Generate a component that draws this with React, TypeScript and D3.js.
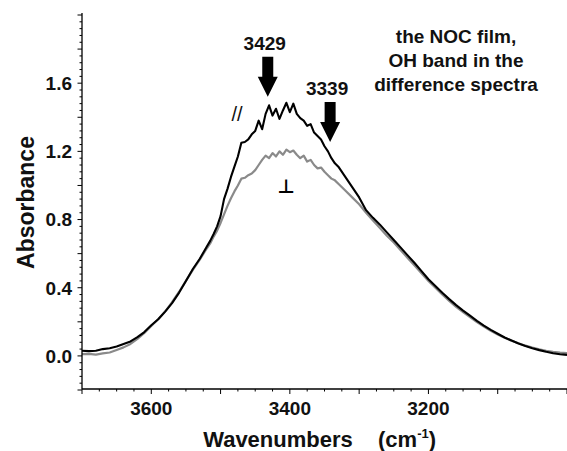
import * as d3 from 'd3'

const W = 567
const H = 451
const M = { left: 82, right: 567, top: 15, bottom: 390 }

const WAVENUMBERS = [
  3700, 3690, 3680, 3670, 3660, 3650, 3640, 3630, 3620, 3610, 3600, 3590, 3580, 3570, 3560,
  3550, 3540, 3530, 3520, 3515, 3510, 3505, 3500, 3495, 3490, 3485, 3480, 3475, 3470, 3465,
  3460, 3455, 3450, 3445, 3440, 3435, 3430, 3425, 3420, 3415, 3410, 3405, 3400, 3395, 3390,
  3385, 3380, 3375, 3370, 3365, 3360, 3355, 3350, 3345, 3340, 3335, 3330, 3320, 3310, 3300,
  3290, 3280, 3270, 3260, 3250, 3240, 3230, 3220, 3210, 3200, 3190, 3180, 3170, 3160, 3150,
  3140, 3130, 3120, 3110, 3100, 3090, 3080, 3070, 3060, 3050, 3040, 3030, 3020, 3010, 3000,
]

// parallel polarisation (black)
const PARALLEL = [
  0.030, 0.028, 0.030, 0.040, 0.045, 0.055, 0.070, 0.085, 0.110, 0.140, 0.180, 0.215, 0.260, 0.310, 0.370,
  0.440, 0.510, 0.570, 0.640, 0.675, 0.715, 0.760, 0.820, 0.920, 0.980, 1.050, 1.110, 1.170, 1.250, 1.255,
  1.270, 1.300, 1.320, 1.380, 1.330, 1.420, 1.470, 1.410, 1.450, 1.390, 1.440, 1.485, 1.430, 1.480, 1.420,
  1.395, 1.380, 1.350, 1.360, 1.310, 1.290, 1.270, 1.230, 1.200, 1.160, 1.130, 1.110, 1.050, 0.990, 0.930,
  0.855, 0.810, 0.770, 0.725, 0.680, 0.635, 0.590, 0.545, 0.497, 0.450, 0.410, 0.370, 0.333, 0.298, 0.266,
  0.236, 0.206, 0.178, 0.153, 0.130, 0.108, 0.090, 0.073, 0.058, 0.045, 0.034, 0.024, 0.016, 0.010, 0.006,
]

// perpendicular polarisation (grey)
const PERPENDICULAR = [
  0.010, 0.012, 0.008, 0.015, 0.020, 0.035, 0.050, 0.070, 0.100, 0.135, 0.175, 0.215, 0.260, 0.315, 0.375,
  0.440, 0.505, 0.565, 0.630, 0.660, 0.700, 0.735, 0.780, 0.830, 0.880, 0.925, 0.965, 1.000, 1.040, 1.045,
  1.060, 1.070, 1.090, 1.120, 1.150, 1.175, 1.160, 1.190, 1.170, 1.200, 1.180, 1.210, 1.195, 1.205, 1.180,
  1.160, 1.175, 1.140, 1.150, 1.120, 1.100, 1.105, 1.080, 1.060, 1.040, 1.030, 1.010, 0.970, 0.930, 0.890,
  0.840, 0.795, 0.750, 0.705, 0.665, 0.620, 0.575, 0.530, 0.485, 0.440, 0.400, 0.360, 0.323, 0.288, 0.257,
  0.227, 0.198, 0.172, 0.148, 0.126, 0.106, 0.089, 0.074, 0.060, 0.049, 0.039, 0.030, 0.024, 0.019, 0.016,
]

const X_LABELS = [3600, 3400, 3200]
const Y_LABELS = [0, 0.4, 0.8, 1.2, 1.6]
const TITLE_LINES = ['the NOC film,', 'OH band in the', 'difference spectra']
const PEAKS = [
  { wn: 3429, top: 1.755, tip: 1.52, label: '3429' },
  { wn: 3339, top: 1.49, tip: 1.255, label: '3339' },
]

const FONT = '"Liberation Sans", Arial, sans-serif'
const INK = '#111'

export default function App() {
  const x = d3.scaleLinear().domain([3700, 3000]).range([M.left, M.right])
  const y = d3.scaleLinear().domain([-0.2, 2.0]).range([M.bottom, M.top])

  const line = d3.line<number>()
    .x((_, i) => x(WAVENUMBERS[i]))
    .y(d => y(d))

  const xMinor = d3.range(3000, 3701, 25)
  const yMinor = d3.range(-0.2, 2.001, 0.04).map(v => +v.toFixed(2))
  const axisY = M.bottom - 1

  const arrow = (cx: number, y0: number, y1: number) => {
    const head = 20, hw = 10, sw = 5.5
    return `M${cx - sw},${y0} L${cx + sw},${y0} L${cx + sw},${y1 - head} L${cx + hw},${y1 - head} ` +
      `L${cx},${y1} L${cx - hw},${y1 - head} L${cx - sw},${y1 - head} Z`
  }

  return (
    <div style={{ position: 'absolute', left: 0, top: 0 }}>
      <svg width={W} height={H} style={{ display: 'block', background: '#fff' }}>
        {/* spectra */}
        <path d={line(PERPENDICULAR) ?? ''} fill="none" stroke="#8a8a8a" strokeWidth={2.2} strokeLinejoin="round" />
        <path d={line(PARALLEL) ?? ''} fill="none" stroke="#000" strokeWidth={2.1} strokeLinejoin="round" />

        {/* y axis */}
        <line x1={M.left} x2={M.left} y1={M.top - 2} y2={axisY} stroke="#000" strokeWidth={1.3} />
        {yMinor.map(v => {
          const big = Math.abs(Math.round(v * 5) - v * 5) < 1e-6
          return <line key={'yt' + v} x1={M.left} x2={M.left - (big ? 4.5 : 2.5)} y1={y(v)} y2={y(v)} stroke="#000" strokeWidth={1} />
        })}
        {Y_LABELS.map(v => (
          <text key={'yl' + v} x={72} y={y(v)} dy="0.36em" textAnchor="end" fontFamily={FONT} fontWeight="bold" fontSize={19} fill={INK}>
            {v.toFixed(1)}
          </text>
        ))}

        {/* x axis */}
        <line x1={M.left} x2={M.right} y1={axisY} y2={axisY} stroke="#000" strokeWidth={1.3} />
        {xMinor.map(v => (
          <line key={'xt' + v} x1={x(v)} x2={x(v)} y1={axisY} y2={axisY + (v % 100 === 0 ? 5 : 2.5)} stroke="#000" strokeWidth={1} />
        ))}
        {X_LABELS.map(v => (
          <text key={'xl' + v} x={x(v)} y={415} textAnchor="middle" fontFamily={FONT} fontWeight="bold" fontSize={19} fill={INK}>
            {v}
          </text>
        ))}

        {/* axis titles */}
        <text transform={`translate(33.5,${(M.top + M.bottom) / 2}) rotate(-90)`} textAnchor="middle"
          fontFamily={FONT} fontWeight="bold" fontSize={23} fill={INK}>Absorbance</text>
        <text x={278} y={447} textAnchor="middle" fontFamily={FONT} fontWeight="bold" fontSize={22} fill={INK}>Wavenumbers</text>
        <text x={378} y={447} fontFamily={FONT} fontWeight="bold" fontSize={22} fill={INK}>
          (cm<tspan fontSize={13} dy={-9}>-1</tspan><tspan dy={9}>)</tspan>
        </text>

        {/* peak markers */}
        {PEAKS.map(p => (
          <g key={p.label}>
            <path d={arrow(x(p.wn) - 2, y(p.top), y(p.tip))} fill="#000" />
            <text x={x(p.wn) - 5} y={y(p.top) - 7} textAnchor="middle" fontFamily={FONT} fontWeight="bold" fontSize={19} fill={INK}>
              {p.label}
            </text>
          </g>
        ))}

        {/* polarisation labels */}
        <text x={237} y={121} textAnchor="middle" fontFamily={FONT} fontSize={20} fill={INK}>//</text>
        <text x={286} y={193} textAnchor="middle" fontFamily='"DejaVu Sans", sans-serif' fontWeight="bold" fontSize={19} fill="#000">⊥</text>

        {/* title */}
        {TITLE_LINES.map((t, i) => (
          <text key={t} x={456} y={42.5 + i * 24.2} textAnchor="middle" fontFamily={FONT} fontWeight="bold" fontSize={19} fill={INK}>
            {t}
          </text>
        ))}
      </svg>
    </div>
  )
}
